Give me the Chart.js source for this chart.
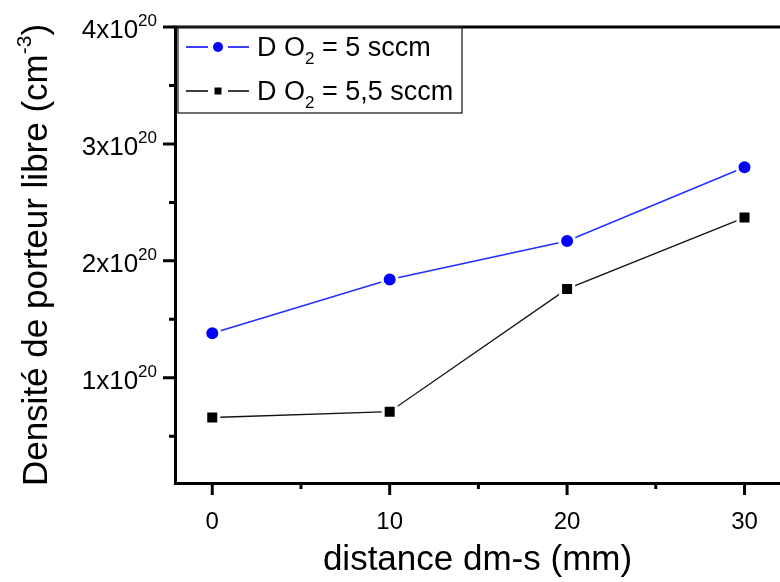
<!DOCTYPE html>
<html>
<head>
<meta charset="utf-8">
<script src="https://cdn.jsdelivr.net/npm/chart.js@4.4.0/dist/chart.umd.min.js"></script>
<style>
  html, body { margin: 0; padding: 0; background: #fff; }
  #wrap { width: 780px; height: 582px; }
</style>
</head>
<body>
<div id="wrap"><canvas id="densityChart"></canvas></div>
<script>
// distance dm-s (mm)
const distances = [0, 10, 20, 30];
// free carrier density, in units of 1e20 cm^-3
const densityO2_5 = [1.38, 1.84, 2.17, 2.80];
const densityO2_55 = [0.66, 0.71, 1.76, 2.37];
// legend text: [before subscript, subscript, after]
const seriesNames = [['D O', '2', ' = 5 sccm'], ['D O', '2', ' = 5,5 sccm']];

const xMajorTicks = [0, 10, 20, 30];
const xMinorTicks = [5, 15, 25];
const yMajorTicks = [1, 2, 3, 4];
const yMinorTicks = [0.5, 1.5, 2.5, 3.5];
const yTickLabels = ['1x10', '2x10', '3x10', '4x10'];
const yTickExponent = '20';

const FONT = '"Liberation Sans", Arial, sans-serif';

// draw text made of pieces (normal / sub / sup), left aligned at x
function drawPieces(ctx, pieces, x, y) {
    let cx = x;
    pieces.forEach(p => {
        ctx.font = p.size + 'px ' + FONT;
        ctx.fillText(p.t, cx, y + (p.dy || 0));
        cx += ctx.measureText(p.t).width;
    });
    return cx - x;
}

function piecesWidth(ctx, pieces) {
    let w = 0;
    pieces.forEach(p => {
        ctx.font = p.size + 'px ' + FONT;
        w += ctx.measureText(p.t).width;
    });
    return w;
}

const axisDecor = {
    id: 'axisDecor',
    afterDraw(chart) {
        const ctx = chart.ctx;
        const area = chart.chartArea;
        const xs = chart.scales.x;
        const ys = chart.scales.y;
        ctx.save();
        ctx.fillStyle = '#000';
        ctx.strokeStyle = '#000';

        // top frame line
        ctx.lineWidth = 3;
        ctx.beginPath();
        ctx.moveTo(area.left - 1.5, area.top);
        ctx.lineTo(area.right, area.top);
        ctx.stroke();

        // tick marks
        ctx.lineWidth = 3;
        ctx.beginPath();
        xMajorTicks.forEach(v => {
            const px = xs.getPixelForValue(v);
            ctx.moveTo(px, area.bottom);
            ctx.lineTo(px, area.bottom + 12);
        });
        xMinorTicks.forEach(v => {
            const px = xs.getPixelForValue(v);
            ctx.moveTo(px, area.bottom);
            ctx.lineTo(px, area.bottom + 6);
        });
        yMajorTicks.forEach(v => {
            const py = ys.getPixelForValue(v);
            ctx.moveTo(area.left, py);
            ctx.lineTo(area.left - 12, py);
        });
        yMinorTicks.forEach(v => {
            const py = ys.getPixelForValue(v);
            ctx.moveTo(area.left, py);
            ctx.lineTo(area.left - 6, py);
        });
        ctx.stroke();

        // x tick labels
        ctx.textBaseline = 'alphabetic';
        ctx.textAlign = 'center';
        ctx.font = '24px ' + FONT;
        xMajorTicks.forEach(v => {
            ctx.fillText(String(v), xs.getPixelForValue(v), area.bottom + 46);
        });

        // y tick labels with exponent
        ctx.textAlign = 'left';
        yMajorTicks.forEach((v, i) => {
            const pieces = [
                { t: yTickLabels[i], size: 26 },
                { t: yTickExponent, size: 17, dy: -12 }
            ];
            const w = piecesWidth(ctx, pieces);
            drawPieces(ctx, pieces, area.left - 18 - w, ys.getPixelForValue(v) + 11);
        });

        // x title
        ctx.textAlign = 'center';
        ctx.font = '35px ' + FONT;
        ctx.fillText('distance dm-s (mm)', (area.left + area.right) / 2, area.bottom + 87);

        // y title (rotated)
        ctx.save();
        ctx.translate(47, (area.top + area.bottom) / 2);
        ctx.rotate(-Math.PI / 2);
        ctx.textAlign = 'left';
        const yTitle = [
            { t: 'Densité de porteur libre (cm', size: 35 },
            { t: '-3', size: 21, dy: -16 },
            { t: ')', size: 35 }
        ];
        drawPieces(ctx, yTitle, -piecesWidth(ctx, yTitle) / 2, 0);
        ctx.restore();

        // legend box
        const lx = area.left + 3, ly = area.top, lw = 284, lh = 86;
        ctx.lineWidth = 1.3;
        ctx.strokeStyle = '#222';
        ctx.strokeRect(lx, ly, lw, lh);

        const rows = [
            { y: ly + 20, color: chart.data.datasets[0].backgroundColor, shape: 'circle' },
            { y: ly + 64, color: chart.data.datasets[1].backgroundColor, shape: 'rect' }
        ];
        rows.forEach((r, i) => {
            ctx.strokeStyle = r.color;
            ctx.lineWidth = 1.3;
            ctx.beginPath();
            ctx.moveTo(lx + 8, r.y);
            ctx.lineTo(lx + 30, r.y);
            ctx.moveTo(lx + 50, r.y);
            ctx.lineTo(lx + 71, r.y);
            ctx.stroke();
            ctx.fillStyle = r.color;
            ctx.beginPath();
            if (r.shape === 'circle') {
                ctx.arc(lx + 40, r.y, 5, 0, Math.PI * 2);
            } else {
                ctx.rect(lx + 36.5, r.y - 3.5, 7, 7);
            }
            ctx.fill();
            ctx.fillStyle = '#000';
            ctx.textAlign = 'left';
            const n = seriesNames[i];
            drawPieces(ctx, [
                { t: n[0], size: 27 },
                { t: n[1], size: 17, dy: 8 },
                { t: n[2], size: 27 }
            ], lx + 79, r.y + 9);
        });

        ctx.restore();
    }
};

const ctx = document.getElementById('densityChart').getContext('2d');
const chart = new Chart(ctx, {
    type: 'line',
    data: {
        datasets: [{
            label: 'D O2 = 5 sccm',
            data: distances.map((d, i) => ({ x: d, y: densityO2_5[i] })),
            borderColor: '#2030ff',
            backgroundColor: '#0000ff',
            borderWidth: 1.5,
            pointStyle: 'circle',
            pointRadius: 7.5,
            pointBorderWidth: 3,
            pointBorderColor: '#ffffff',
            pointBackgroundColor: '#0000ff',
            tension: 0
        }, {
            label: 'D O2 = 5,5 sccm',
            data: distances.map((d, i) => ({ x: d, y: densityO2_55[i] })),
            borderColor: '#111111',
            backgroundColor: '#000000',
            borderWidth: 1.3,
            pointStyle: 'rect',
            pointRadius: 9.2,
            pointBorderWidth: 3,
            pointBorderColor: '#ffffff',
            pointBackgroundColor: '#000000',
            tension: 0
        }]
    },
    options: {
        responsive: true,
        maintainAspectRatio: false,
        animation: false,
        layout: {
            autoPadding: false,
            padding: { left: 175, top: 27, right: 0, bottom: 99 }
        },
        plugins: {
            legend: { display: false },
            tooltip: { enabled: false }
        },
        scales: {
            x: {
                type: 'linear',
                min: -2.1,
                max: 32,
                ticks: { display: false, padding: 0 },
                grid: { display: false },
                border: { display: true, color: '#000', width: 3 },
                afterFit: s => { s.height = 0; s.paddingLeft = 0; s.paddingRight = 0; }
            },
            y: {
                type: 'linear',
                min: 0.1,
                max: 4,
                ticks: { display: false, padding: 0 },
                grid: { display: false },
                border: { display: true, color: '#000', width: 3 },
                afterFit: s => { s.width = 0; s.paddingTop = 0; s.paddingBottom = 0; }
            }
        }
    },
    plugins: [axisDecor]
});
</script>
</body>
</html>
